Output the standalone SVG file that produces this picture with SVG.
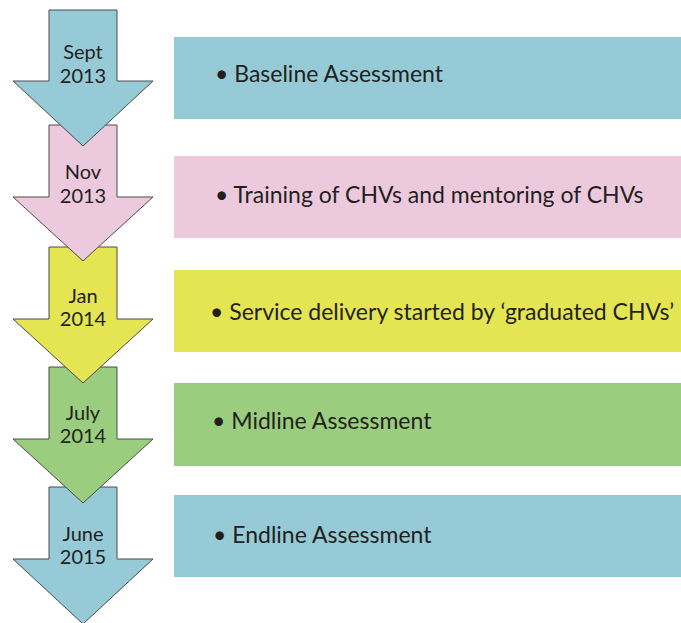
<svg xmlns="http://www.w3.org/2000/svg" width="681" height="623" viewBox="0 0 681 623">
  <style>
    .arrow { stroke: #4a4a4a; stroke-width: 1; stroke-linejoin: miter; }
    .date { font-family: Lato, "Open Sans", sans-serif; font-size: 20px; fill: #231f20; text-anchor: middle; }
    .item { font-family: Lato, "Open Sans", sans-serif; font-size: 23px; fill: #231f20; }
    .blue { fill: #95cad6; }
    .pink { fill: #edc9dd; }
    .yellow { fill: #e5e553; }
    .green { fill: #9acd7d; }
  </style>
  <rect width="681" height="623" fill="#ffffff"/>

  <!-- activity bars -->
  <g id="bar-baseline">
    <rect class="blue" x="174" y="37" width="507" height="82"/>
    <text class="item" x="215" y="82">•  Baseline Assessment</text>
  </g>
  <g id="bar-training">
    <rect class="pink" x="174" y="156" width="507" height="82"/>
    <text class="item" x="215" y="203">•  Training of CHVs and mentoring of CHVs</text>
  </g>
  <g id="bar-service">
    <rect class="yellow" x="174" y="270" width="507" height="82"/>
    <text class="item" x="210" y="320">•  Service delivery started by ‘graduated CHVs’</text>
  </g>
  <g id="bar-midline">
    <rect class="green" x="174" y="383" width="507" height="83"/>
    <text class="item" x="212" y="429">•  Midline Assessment</text>
  </g>
  <g id="bar-endline">
    <rect class="blue" x="174" y="495" width="507" height="82"/>
    <text class="item" x="213" y="543">•  Endline Assessment</text>
  </g>

  <!-- timeline arrows, drawn bottom-up so each head overlaps the next shaft -->
  <g id="connectors">
    <g id="arrow-june-2015">
      <path class="arrow blue" d="M49,487 H117 V559 H153 L83,624 L13,559 H49 Z"/>
      <text class="date" x="83" y="541">June</text>
      <text class="date" x="83" y="564">2015</text>
    </g>
    <g id="arrow-july-2014">
      <path class="arrow green" d="M49,367 H117 V439 H153 L83,503 L13,439 H49 Z"/>
      <text class="date" x="83" y="420">July</text>
      <text class="date" x="83" y="443">2014</text>
    </g>
    <g id="arrow-jan-2014">
      <path class="arrow yellow" d="M49,247 H117 V319 H153 L83,383 L13,319 H49 Z"/>
      <text class="date" x="83" y="303">Jan</text>
      <text class="date" x="83" y="326">2014</text>
    </g>
    <g id="arrow-nov-2013">
      <path class="arrow pink" d="M49,125 H117 V197 H153 L83,261 L13,197 H49 Z"/>
      <text class="date" x="83" y="179">Nov</text>
      <text class="date" x="83" y="203">2013</text>
    </g>
    <g id="arrow-sept-2013">
      <path class="arrow blue" d="M49,10 H117 V81 H153 L83,146 L13,81 H49 Z"/>
      <text class="date" x="83" y="59">Sept</text>
      <text class="date" x="83" y="83">2013</text>
    </g>
  </g>
</svg>
